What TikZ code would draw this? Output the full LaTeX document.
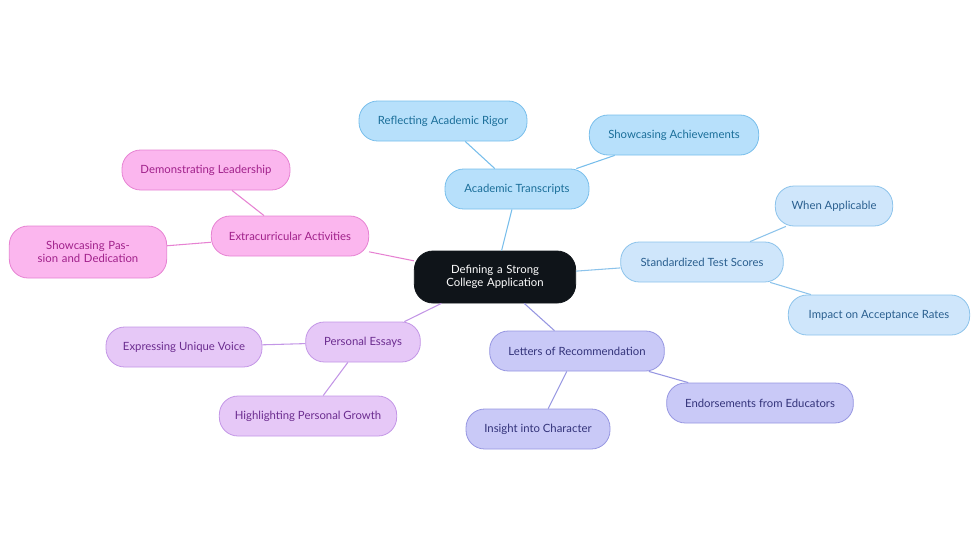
\documentclass[tikz,border=0pt]{standalone}
\usepackage{fontspec}
\setmainfont{Lato}
\usetikzlibrary{positioning}
\definecolor{rootfill}{RGB}{15,20,25}
\definecolor{blfill}{RGB}{183,224,251}
\definecolor{blline}{RGB}{120,190,235}
\definecolor{bltext}{RGB}{26,110,153}
\definecolor{lbfill}{RGB}{207,230,251}
\definecolor{lbline}{RGB}{140,195,235}
\definecolor{lbtext}{RGB}{42,95,143}
\definecolor{vifill}{RGB}{201,201,247}
\definecolor{viline}{RGB}{150,150,225}
\definecolor{vitext}{RGB}{51,51,122}
\definecolor{pufill}{RGB}{230,200,247}
\definecolor{puline}{RGB}{195,150,230}
\definecolor{putext}{RGB}{107,44,143}
\definecolor{pkfill}{RGB}{251,182,238}
\definecolor{pkline}{RGB}{230,130,210}
\definecolor{pktext}{RGB}{160,32,138}
\tikzset{
  leaf/.style={rounded corners=14pt, draw, line width=0.6pt, minimum height=30pt,
    align=center, font=\fontsize{8.5}{10}\selectfont, inner xsep=6pt},
  blue/.style={leaf, fill=blfill, draw=blline, text=bltext},
  lblue/.style={leaf, fill=lbfill, draw=lbline, text=lbtext},
  violet/.style={leaf, fill=vifill, draw=viline, text=vitext},
  purple/.style={leaf, fill=pufill, draw=puline, text=putext},
  pink/.style={leaf, fill=pkfill, draw=pkline, text=pktext},
  link/.style={line width=0.8pt},
}
\begin{document}
\begin{tikzpicture}[x=0.75pt, y=-0.75pt]
  \useasboundingbox (0,0) rectangle (980,553);

  \node [leaf, fill=rootfill, draw=rootfill, text=white, minimum width=121pt,
    minimum height=39pt, text width=100pt] (root) at (495,277)
    {Defining a Strong College Application};

  \node [blue, minimum width=108pt] (trans) at (517,189) {Academic Transcripts};
  \node [blue, minimum width=126pt] (rigor) at (443,121) {Reflecting Academic Rigor};
  \node [blue, minimum width=127pt] (achv) at (674,135) {Showcasing Achievements};

  \node [lblue, minimum width=122pt] (test) at (702,262) {Standardized Test Scores};
  \node [lblue, minimum width=88pt] (when) at (834,206) {When Applicable};
  \node [lblue, minimum width=136pt] (impact) at (879,315) {Impact on Acceptance Rates};

  \node [violet, minimum width=131pt] (letters) at (577,351) {Letters of Recommendation};
  \node [violet, minimum width=108pt] (insight) at (538,429) {Insight into Character};
  \node [violet, minimum width=140pt] (endorse) at (760,403) {Endorsements from Educators};

  \node [purple, minimum width=86pt] (essays) at (363,342) {Personal Essays};
  \node [purple, minimum width=117pt] (voice) at (184,347) {Expressing Unique Voice};
  \node [purple, minimum width=133pt] (growth) at (308,416) {Highlighting Personal Growth};

  \node [pink, minimum width=118pt] (extra) at (290,236) {Extracurricular Activities};
  \node [pink, minimum width=126pt] (lead) at (206,170) {Demonstrating Leadership};
  \node [pink, minimum width=118pt, minimum height=39pt, text width=104pt] (passion) at (88,252)
    {Showcasing Passion and Dedication};

  \begin{scope}[on background layer/.style={}]
    \draw [link, blline] (root) -- (trans);
    \draw [link, blline] (trans) -- (rigor);
    \draw [link, blline] (trans) -- (achv);
    \draw [link, lbline] (root) -- (test);
    \draw [link, lbline] (test) -- (when);
    \draw [link, lbline] (test) -- (impact);
    \draw [link, viline] (root) -- (letters);
    \draw [link, viline] (letters) -- (insight);
    \draw [link, viline] (letters) -- (endorse);
    \draw [link, puline] (root) -- (essays);
    \draw [link, puline] (essays) -- (voice);
    \draw [link, puline] (essays) -- (growth);
    \draw [link, pkline] (root) -- (extra);
    \draw [link, pkline] (extra) -- (lead);
    \draw [link, pkline] (extra) -- (passion);
  \end{scope}
\end{tikzpicture}
\end{document}
